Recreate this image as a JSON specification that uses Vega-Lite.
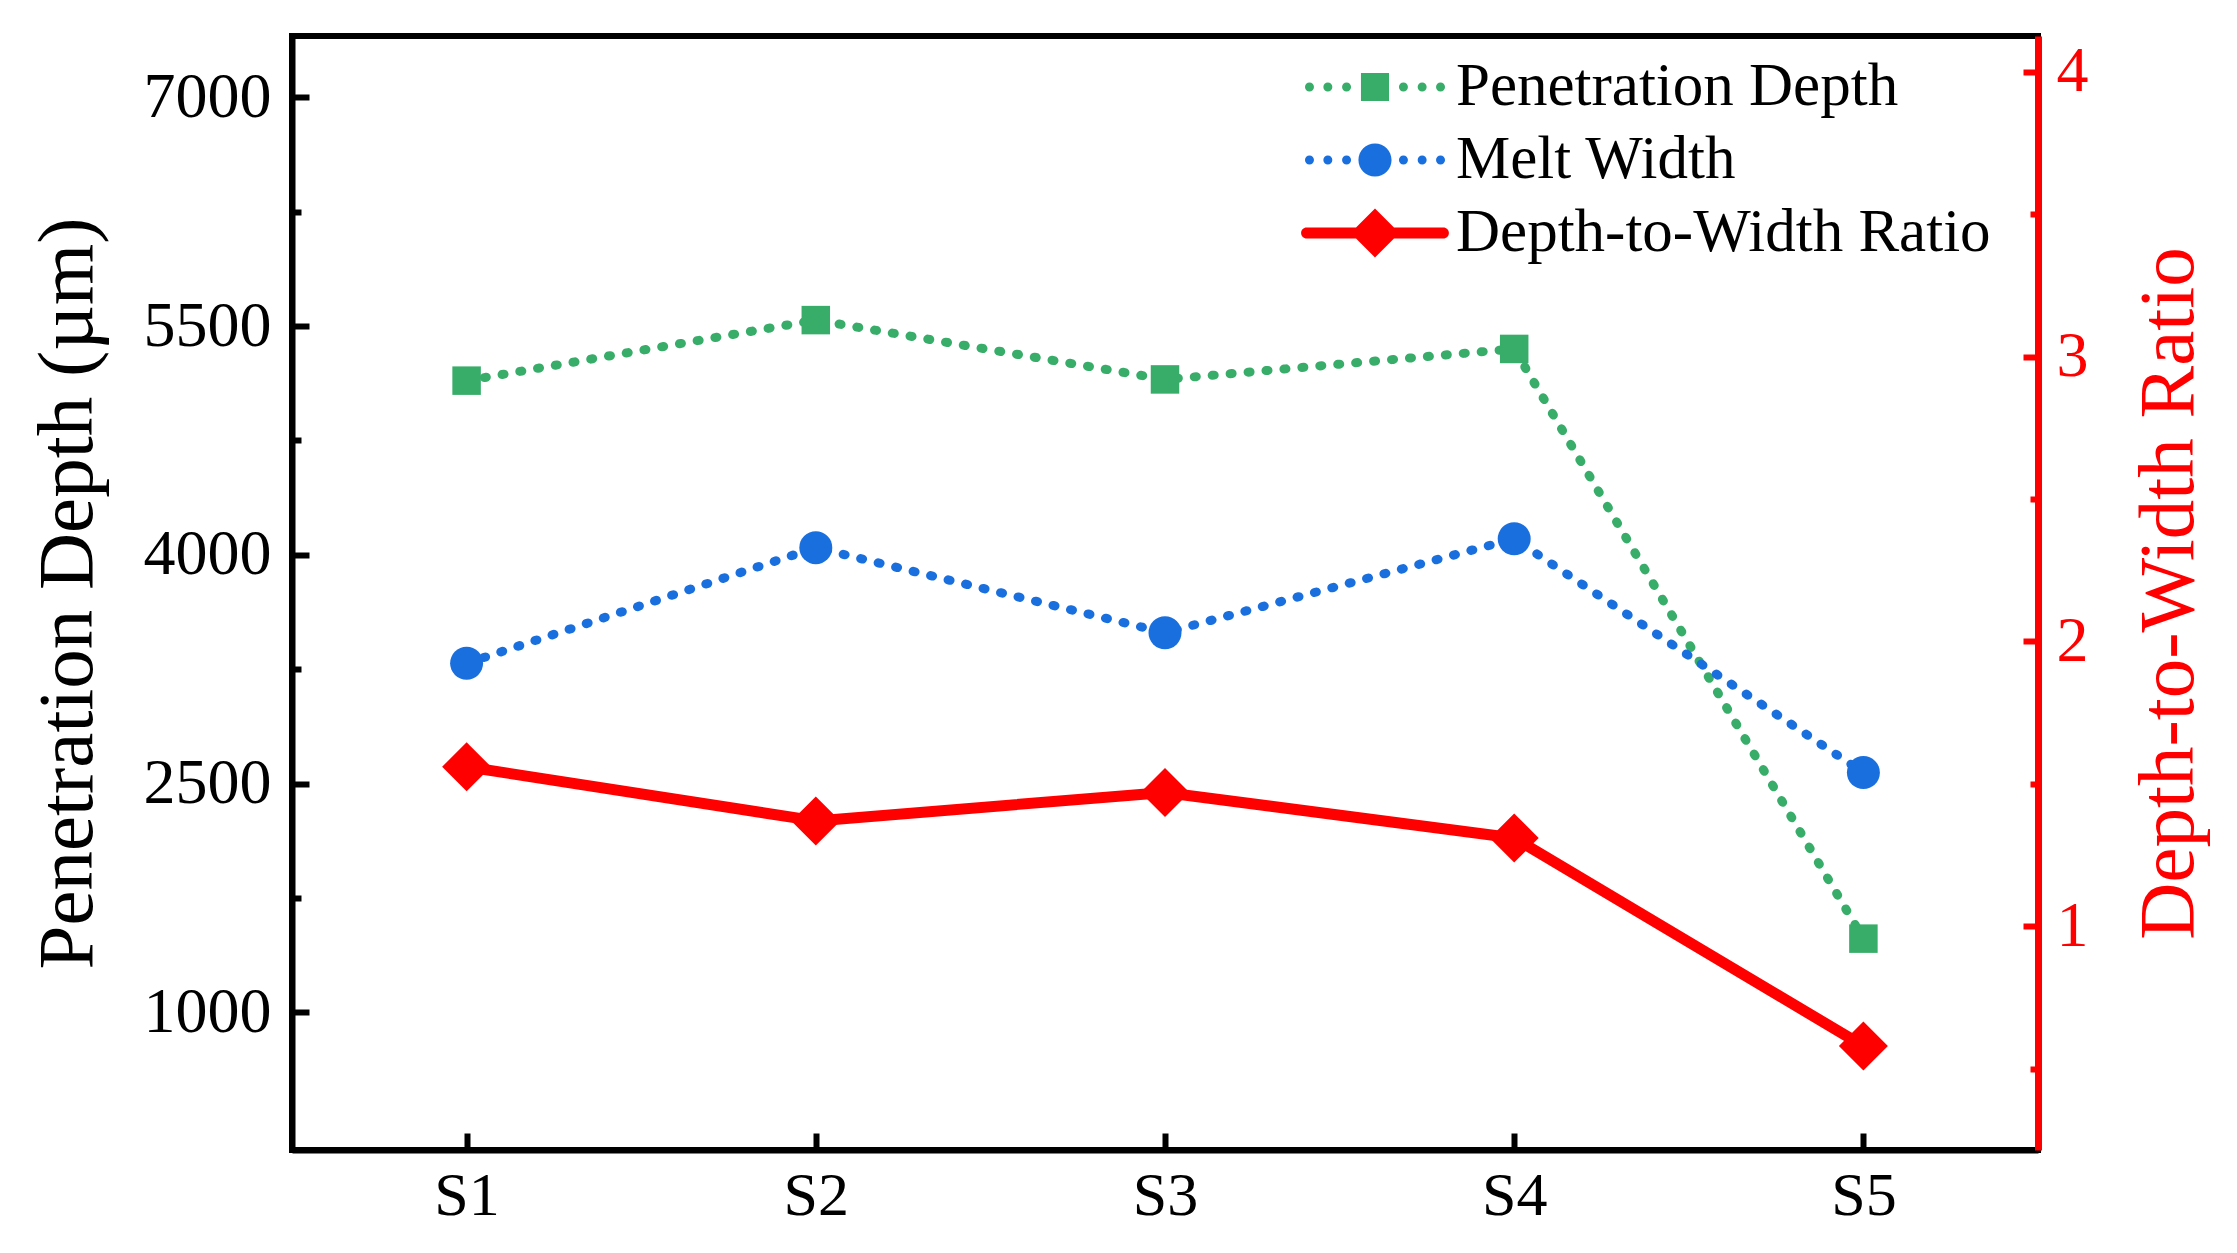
{
  "$schema": "https://vega.github.io/schema/vega-lite/v6.json",
  "width": 1746,
  "height": 1114,
  "autosize": {"type": "none"},
  "padding": {"left": 292, "top": 36, "right": 199, "bottom": 103},
  "background": "white",
  "config": {
    "font": "Liberation Serif",
    "view": {"stroke": "black", "strokeWidth": 6}
  },
  "data": {
    "values": [
      {"Sample": "S1", "Penetration Depth": 5142, "Melt Width": 3289, "Depth-to-Width Ratio": 1.56},
      {"Sample": "S2", "Penetration Depth": 5539, "Melt Width": 4047, "Depth-to-Width Ratio": 1.37},
      {"Sample": "S3", "Penetration Depth": 5150, "Melt Width": 3489, "Depth-to-Width Ratio": 1.47},
      {"Sample": "S4", "Penetration Depth": 5350, "Melt Width": 4105, "Depth-to-Width Ratio": 1.31},
      {"Sample": "S5", "Penetration Depth": 1483, "Melt Width": 2572, "Depth-to-Width Ratio": 0.58}
    ]
  },
  "encoding": {
    "x": {
      "field": "Sample",
      "type": "ordinal",
      "scale": {"type": "point", "padding": 0.5},
      "axis": {
        "title": null,
        "labelAngle": 0,
        "labelFont": "Liberation Serif",
        "labelFontSize": 62,
        "labelColor": "black",
        "labelPadding": 32,
        "tickSize": -17,
        "tickWidth": 6,
        "tickColor": "black",
        "domainColor": "black",
        "domainWidth": 6,
        "grid": false
      }
    }
  },
  "layer": [
    {
      "layer": [
        {
          "transform": [
            {"fold": ["Penetration Depth", "Melt Width", "Depth-to-Width Ratio"], "as": ["series", "v"]},
            {"filter": "false"}
          ],
          "mark": {"type": "point", "filled": true, "size": 5184, "strokeWidth": 0, "opacity": 1},
          "encoding": {
            "color": {
              "field": "series",
              "type": "nominal",
              "scale": {
                "domain": ["Penetration Depth", "Melt Width", "Depth-to-Width Ratio"],
                "range": ["#38AD69", "#1A6FDF", "#FF0000"]
              },
              "legend": {
                "title": null,
                "orient": "none",
                "legendX": 1011,
                "legendY": 15,
                "padding": 0,
                "rowPadding": 7,
                "symbolSize": 5184,
                "symbolStrokeWidth": 0,
                "symbolOffset": 36,
                "labelOffset": 45,
                "labelFont": "Liberation Serif",
                "labelFontSize": 61,
                "labelLimit": 0,
                "encode": {"labels": {"update": {"fill": {"signal": "datum.value === 'Depth-to-Width Ratio' ? '#FF0000' : '#000000'"}}}}
              }
            },
            "shape": {
              "field": "series",
              "type": "nominal",
              "scale": {
                "domain": ["Penetration Depth", "Melt Width", "Depth-to-Width Ratio"],
                "range": [
                  "M-1.945,0 A0.125,0.125 0 1,1 -1.695,0 A0.125,0.125 0 1,1 -1.945,0 Z M-1.435,0 A0.125,0.125 0 1,1 -1.185,0 A0.125,0.125 0 1,1 -1.435,0 Z M-0.915,0 A0.125,0.125 0 1,1 -0.665,0 A0.125,0.125 0 1,1 -0.915,0 Z M0.665,0 A0.125,0.125 0 1,1 0.915,0 A0.125,0.125 0 1,1 0.665,0 Z M1.185,0 A0.125,0.125 0 1,1 1.435,0 A0.125,0.125 0 1,1 1.185,0 Z M1.695,0 A0.125,0.125 0 1,1 1.945,0 A0.125,0.125 0 1,1 1.695,0 Z M-0.39,-0.39 L0.39,-0.39 L0.39,0.39 L-0.39,0.39 Z",
                  "M-1.945,0 A0.125,0.125 0 1,1 -1.695,0 A0.125,0.125 0 1,1 -1.945,0 Z M-1.435,0 A0.125,0.125 0 1,1 -1.185,0 A0.125,0.125 0 1,1 -1.435,0 Z M-0.915,0 A0.125,0.125 0 1,1 -0.665,0 A0.125,0.125 0 1,1 -0.915,0 Z M0.665,0 A0.125,0.125 0 1,1 0.915,0 A0.125,0.125 0 1,1 0.665,0 Z M1.185,0 A0.125,0.125 0 1,1 1.435,0 A0.125,0.125 0 1,1 1.185,0 Z M1.695,0 A0.125,0.125 0 1,1 1.945,0 A0.125,0.125 0 1,1 1.695,0 Z M-0.46,0 A0.46,0.46 0 1,1 0.46,0 A0.46,0.46 0 1,1 -0.46,0 Z",
                  "M-1.9,-0.153 L1.9,-0.153 A0.153,0.153 0 0,1 1.9,0.153 L-1.9,0.153 A0.153,0.153 0 0,1 -1.9,-0.153 Z M-0.68,0 L0,-0.68 L0.68,0 L0,0.68 Z"
                ]
              },
              "legend": {
                "title": null,
                "orient": "none",
                "legendX": 1011,
                "legendY": 15,
                "padding": 0,
                "rowPadding": 7,
                "symbolSize": 5184,
                "symbolStrokeWidth": 0,
                "symbolOffset": 36,
                "labelOffset": 45,
                "labelFont": "Liberation Serif",
                "labelFontSize": 61,
                "labelLimit": 0,
                "encode": {"labels": {"update": {"fill": {"signal": "datum.value === 'Depth-to-Width Ratio' ? '#FF0000' : '#000000'"}}}}
              }
            }
          }
        },
        {
          "mark": {"type": "line", "color": "#38AD69", "strokeWidth": 9, "strokeDash": [2, 16], "strokeCap": "round"},
          "encoding": {
            "y": {
              "field": "Penetration Depth",
              "type": "quantitative",
              "scale": {"domain": [97, 7402], "nice": false, "zero": false},
              "axis": {
                "orient": "left",
                "title": "Penetration Depth (µm)",
                "values": [1000, 1750, 2500, 3250, 4000, 4750, 5500, 6250, 7000],
                "format": "d",
                "labelExpr": "datum.value % 1500 == 1000 ? datum.label : ''",
                "tickSize": {"condition": {"test": "datum.value % 1500 == 1000", "value": -17}, "value": -9},
                "tickWidth": 6,
                "tickColor": "black",
                "domainColor": "black",
                "domainWidth": 6,
                "labelFont": "Liberation Serif",
                "labelFontSize": 64,
                "labelColor": "black",
                "labelPadding": 38,
                "labelOverlap": false,
                "labelFlush": false,
                "titleFont": "Liberation Serif",
                "titleFontSize": 79,
                "titleFontWeight": "normal",
                "titleColor": "black",
                "titlePadding": 35,
                "grid": false
              }
            }
          }
        },
        {
          "mark": {"type": "point", "shape": "square", "filled": true, "size": 812, "color": "#38AD69", "strokeWidth": 0, "opacity": 1},
          "encoding": {"y": {"field": "Penetration Depth", "type": "quantitative"}}
        },
        {
          "mark": {"type": "line", "color": "#1A6FDF", "strokeWidth": 9, "strokeDash": [2, 16], "strokeCap": "round"},
          "encoding": {"y": {"field": "Melt Width", "type": "quantitative"}}
        },
        {
          "mark": {"type": "point", "shape": "circle", "filled": true, "size": 1089, "color": "#1A6FDF", "strokeWidth": 0, "opacity": 1},
          "encoding": {"y": {"field": "Melt Width", "type": "quantitative"}}
        }
      ]
    },
    {
      "layer": [
        {
          "mark": {"type": "line", "color": "#FF0000", "strokeWidth": 11, "strokeCap": "round", "strokeJoin": "round"},
          "encoding": {
            "y": {
              "field": "Depth-to-Width Ratio",
              "type": "quantitative",
              "scale": {"domain": [0.215, 4.125], "nice": false, "zero": false},
              "axis": {
                "orient": "right",
                "title": "Depth-to-Width Ratio",
                "values": [0.5, 1, 1.5, 2, 2.5, 3, 3.5, 4],
                "labelExpr": "datum.value % 1 == 0 ? '' + datum.value : ''",
                "tickSize": {"condition": {"test": "datum.value % 1 == 0", "value": -15}, "value": -8},
                "tickWidth": 6,
                "tickColor": "#FF0000",
                "domainColor": "#FF0000",
                "domainWidth": 7,
                "labelFont": "Liberation Serif",
                "labelFontSize": 64,
                "labelColor": "#FF0000",
                "labelPadding": 33,
                "labelOverlap": false,
                "labelFlush": false,
                "titleFont": "Liberation Serif",
                "titleFontSize": 79,
                "titleFontWeight": "normal",
                "titleColor": "#FF0000",
                "titleAngle": 270,
                "titleBaseline": "top",
                "titlePadding": 42,
                "grid": false
              }
            }
          }
        },
        {
          "mark": {"type": "point", "shape": "diamond", "filled": true, "size": 2401, "color": "#FF0000", "strokeWidth": 0, "opacity": 1},
          "encoding": {"y": {"field": "Depth-to-Width Ratio", "type": "quantitative"}}
        }
      ]
    }
  ],
  "resolve": {"scale": {"y": "independent"}}
}
